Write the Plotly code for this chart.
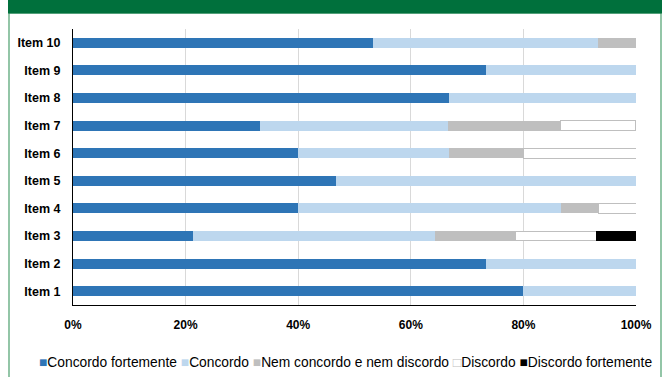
import plotly.graph_objects as go

items = ["Item 1", "Item 2", "Item 3", "Item 4", "Item 5",
         "Item 6", "Item 7", "Item 8", "Item 9", "Item 10"]
series_names = ["Concordo fortemente", "Concordo", "Nem concordo e nem discordo",
                "Discordo", "Discordo fortemente"]
concordo_fortemente = [80.0, 73.3, 21.4, 40.0, 46.7, 40.0, 33.3, 66.7, 73.3, 53.3]
concordo            = [20.0, 26.7, 42.9, 46.7, 53.3, 26.7, 33.3, 33.3, 26.7, 40.0]
nem_concordo        = [0.0, 0.0, 14.3, 6.7, 0.0, 13.3, 20.0, 0.0, 0.0, 6.7]
discordo            = [0.0, 0.0, 14.3, 6.7, 0.0, 20.0, 13.3, 0.0, 0.0, 0.0]
discordo_fortemente = [0.0, 0.0, 7.1, 0.0, 0.0, 0.0, 0.0, 0.0, 0.0, 0.0]
x_ticks = [0, 20, 40, 60, 80, 100]
x_tick_labels = ["0%", "20%", "40%", "60%", "80%", "100%"]

values = [concordo_fortemente, concordo, nem_concordo, discordo, discordo_fortemente]
colors = ["#2E75B6", "#BDD7EE", "#BFBFBF", "#FFFFFF", "#000000"]
lines = ["rgba(0,0,0,0)", "rgba(0,0,0,0)", "rgba(0,0,0,0)", "#BFBFBF", "rgba(0,0,0,0)"]

W, H = 664, 377
ML, MR, MT, MB = 73, 28, 29, 72
pw, ph = W - ML - MR, H - MT - MB

def px_x(x):
    return (x - ML) / pw

def px_y(y):
    return (H - MB - y) / ph

fig = go.Figure()
for name, vals, c, lc in zip(series_names, values, colors, lines):
    fig.add_trace(go.Bar(
        y=items, x=vals, name=name, orientation="h",
        marker=dict(color=c, line=dict(color=lc, width=1)),
        showlegend=False, hoverinfo="x+y+name",
    ))

GREEN = "#00703C"
fig.add_shape(type="rect", xref="paper", yref="paper",
              x0=px_x(9), x1=px_x(661), y0=px_y(381), y1=px_y(13),
              line=dict(color="#4CA06E", width=1.2), fillcolor="rgba(0,0,0,0)", layer="below")
fig.add_shape(type="rect", xref="paper", yref="paper",
              x0=px_x(8), x1=px_x(662), y0=px_y(13.5), y1=px_y(-2),
              line=dict(width=0), fillcolor=GREEN, layer="above")

legend_text = (
    "<span style='color:#2E75B6'>■</span>Concordo fortemente "
    "<span style='color:#BDD7EE'>■</span>Concordo "
    "<span style='color:#BFBFBF'>■</span>Nem concordo e nem discordo "
    "<span style='color:#BFBFBF'>□</span>Discordo "
    "<span style='color:#000000'>■</span>Discordo fortemente"
)
fig.add_annotation(text=legend_text, xref="paper", yref="paper",
                   x=px_x(345), y=px_y(362), showarrow=False,
                   xanchor="center", yanchor="middle",
                   font=dict(family="Liberation Sans, Arial", size=13.8, color="#000000"))

fig.update_layout(
    width=W, height=H, barmode="stack", bargap=0.64,
    margin=dict(l=ML, r=MR, t=MT, b=MB),
    paper_bgcolor="white", plot_bgcolor="white",
    font=dict(family="Liberation Sans, Arial", color="#000000"),
    xaxis=dict(range=[0, 100], tickvals=x_ticks, ticktext=x_tick_labels,
               showgrid=True, gridcolor="#D9D9D9", gridwidth=1,
               zeroline=False, showline=True, linecolor="#000000", linewidth=1,
               ticks="", ticklabelstandoff=9,
               tickfont=dict(size=12, family="Liberation Sans, Arial", weight="bold")),
    yaxis=dict(showgrid=False, zeroline=False, showline=True, linecolor="#000000",
               linewidth=1, ticks="", ticklabelstandoff=9,
               tickfont=dict(size=12.5, family="Liberation Sans, Arial", weight="bold")),
)

fig.write_html("out.html", config={"displayModeBar": False},
               post_script="document.body.style.margin='0px';document.body.style.overflow='hidden';")
